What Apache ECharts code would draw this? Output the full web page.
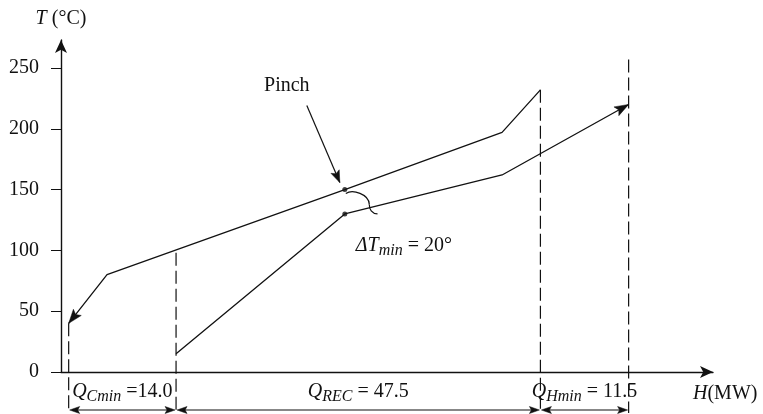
<!DOCTYPE html>
<html>
<head>
<meta charset="utf-8">
<script src="https://cdn.jsdelivr.net/npm/echarts@6/dist/echarts.min.js"></script>
<style>
  html, body { margin: 0; padding: 0; background: #fff; }
  #chart { width: 763px; height: 414px; }
</style>
</head>
<body>
<div id="chart"></div>
<script>
// Hot composite curve (H in MW, T in °C)
const hotH = [1, 6, 37, 57.5, 62.5];
const hotT = [40, 80, 150, 197, 232];

// Cold composite curve
const coldH = [15, 37, 57.5, 74];
const coldT = [15, 130, 162, 220];

// Pinch location and minimum approach temperature
const pinchH = 37;
const pinchHotT = 150;
const dTmin = 20;

// Energy targets laid end to end along H, starting at the hot curve's cold end
const targetStart = 1;
const targetNames = ['Cmin', 'REC', 'Hmin'];
const targetValues = [14.0, 47.5, 11.5];
const targetSeps = [' =', ' = ', ' = '];

// Where each dashed guide starts (temperature), one per target boundary
const guideTopT = [40, 98, 232, 257];

const yTicks = [0, 50, 100, 150, 200, 250];

const INK = '#111';
const FONT = 'Liberation Serif';

// Boundaries of the target intervals along H
const bounds = [targetStart];
targetValues.forEach(v => bounds.push(bounds[bounds.length - 1] + v));

const toPairs = (xs, ys) => xs.map((x, i) => [x, ys[i]]);

function arrowHead(from, tip, len, halfW) {
  const dx = tip[0] - from[0], dy = tip[1] - from[1];
  const d = Math.hypot(dx, dy) || 1;
  const ux = dx / d, uy = dy / d;
  const bx = tip[0] - ux * len, by = tip[1] - uy * len;
  const nx = -uy, ny = ux;
  return {
    type: 'polygon',
    shape: { points: [tip, [bx + nx * halfW, by + ny * halfW], [tip[0] - ux * len * 0.8, tip[1] - uy * len * 0.8], [bx - nx * halfW, by - ny * halfW]] },
    style: { fill: INK, stroke: INK, lineWidth: 0.5 }
  };
}

const labelRich = {
  q: { fontFamily: FONT, fontSize: 20, fontStyle: 'italic', lineHeight: 26, color: INK },
  s: { fontFamily: FONT, fontSize: 16, fontStyle: 'italic', lineHeight: 16, verticalAlign: 'bottom', color: INK },
  t: { fontFamily: FONT, fontSize: 20, lineHeight: 26, color: INK }
};

const chart = echarts.init(document.getElementById('chart'));

const option = {
  animation: false,
  backgroundColor: '#fff',
  grid: { left: 61, right: 50, top: 40, bottom: 42, outerBoundsMode: 'none' },
  xAxis: {
    type: 'value', min: 0, max: 85,
    splitLine: { show: false },
    axisTick: { show: false },
    axisLabel: { show: false },
    axisLine: { show: true, onZero: false, lineStyle: { color: INK, width: 1.4 }, symbol: ['none', 'arrow'], symbolSize: [9, 13] },
    name: '{i|H}(MW)',
    nameLocation: 'end',
    nameGap: -20,
    nameTextStyle: {
      fontFamily: FONT, fontSize: 20, color: INK, align: 'left', verticalAlign: 'top', padding: [12, 0, 0, 0],
      rich: { i: { fontFamily: FONT, fontSize: 20, fontStyle: 'italic', color: INK } }
    }
  },
  yAxis: {
    type: 'value', min: 0, max: 273,
    splitLine: { show: false },
    axisLine: { show: true, lineStyle: { color: INK, width: 1.4 }, symbol: ['none', 'arrow'], symbolSize: [9, 13] },
    axisTick: { show: true, length: 10, customValues: yTicks, lineStyle: { color: INK, width: 1 } },
    axisLabel: { customValues: yTicks, margin: 22, fontFamily: FONT, fontSize: 20, color: INK },
    name: '{i|T} (°C)',
    nameLocation: 'end',
    nameGap: 11,
    nameTextStyle: {
      fontFamily: FONT, fontSize: 20, color: INK,
      rich: { i: { fontFamily: FONT, fontSize: 20, fontStyle: 'italic', color: INK } }
    }
  },
  series: [
    {
      name: 'Hot composite', type: 'line', data: toPairs(hotH, hotT),
      symbol: 'none', clip: false, lineStyle: { color: INK, width: 1.3 }
    },
    {
      name: 'Cold composite', type: 'line', data: toPairs(coldH, coldT),
      symbol: 'none', clip: false, lineStyle: { color: INK, width: 1.3 }
    },
    {
      name: 'Pinch points', type: 'scatter', symbol: 'circle', symbolSize: 5,
      itemStyle: { color: INK },
      data: [[pinchH, pinchHotT], [pinchH, pinchHotT - dTmin]]
    },
    {
      // arrowheads at the hot curve's cold end and the cold curve's hot end
      name: 'Curve arrows', type: 'custom',
      encode: { x: [0, 2], y: [1, 3] },
      data: [
        [hotH[1], hotT[1], hotH[0], hotT[0]],
        [coldH[coldH.length - 2], coldT[coldT.length - 2], coldH[coldH.length - 1], coldT[coldT.length - 1]]
      ],
      renderItem(params, api) {
        const a = api.coord([api.value(0), api.value(1)]);
        const b = api.coord([api.value(2), api.value(3)]);
        return arrowHead(a, b, 14, 5);
      }
    },
    {
      // dashed guides at the target boundaries
      name: 'Guides', type: 'custom',
      data: bounds.map((h, i) => [h, guideTopT[i]]),
      renderItem(params, api) {
        const top = api.coord([api.value(0), api.value(1)]);
        const base = api.coord([api.value(0), 0]);
        return {
          type: 'line',
          shape: { x1: top[0], y1: top[1], x2: top[0], y2: base[1] + 41 },
          style: { stroke: INK, lineWidth: 1.2, lineDash: [13, 5] }
        };
      }
    },
    {
      // dimension arrows and labels for the energy targets
      name: 'Targets', type: 'custom',
      encode: { x: [0, 1] },
      data: targetValues.map((v, i) => [bounds[i], bounds[i + 1], i]),
      renderItem(params, api) {
        const i = api.value(2);
        const a = api.coord([api.value(0), 0]);
        const b = api.coord([api.value(1), 0]);
        const y = a[1] + 38;
        const mid = (a[0] + b[0]) / 2;
        return {
          type: 'group',
          children: [
            { type: 'line', shape: { x1: a[0] + 4, y1: y, x2: b[0] - 4, y2: y }, style: { stroke: INK, lineWidth: 1.2 } },
            arrowHead([mid, y], [a[0] + 1, y], 10, 3.5),
            arrowHead([mid, y], [b[0] - 1, y], 10, 3.5),
            {
              type: 'text', x: mid, y: a[1] + 20,
              style: {
                text: '{q|Q}{s|' + targetNames[i] + '}{t|' + targetSeps[i] + targetValues[i].toFixed(1) + '}',
                rich: labelRich, align: 'center', verticalAlign: 'middle', fill: INK
              }
            }
          ]
        };
      }
    },
    {
      // pinch callout and the ΔTmin leader
      name: 'Pinch notes', type: 'custom',
      encode: { x: 0, y: [1, 2] },
      data: [[pinchH, pinchHotT, pinchHotT - dTmin]],
      renderItem(params, api) {
        const hp = api.coord([api.value(0), api.value(1)]);
        const cp = api.coord([api.value(0), api.value(2)]);
        const s = (cp[1] - hp[1]) / 34;
        const P = (dx, dy) => [hp[0] + dx, hp[1] + dy * s];
        const from = [hp[0] - 38, hp[1] - 84];
        const tip = [hp[0] - 5, hp[1] - 7];
        const p0 = P(1, 5.4), p1 = P(24.5, 20.7), p2 = P(32.7, 34);
        const c1 = P(8, -0.5), c2 = P(24, 6), c3 = P(24.3, 27.5), c4 = P(27, 33.5);
        return {
          type: 'group',
          children: [
            {
              type: 'text', x: hp[0] - 58, y: hp[1] - 104,
              style: { text: 'Pinch', fontFamily: FONT, fontSize: 20, fill: INK, align: 'center', verticalAlign: 'middle' }
            },
            { type: 'line', shape: { x1: from[0], y1: from[1], x2: tip[0], y2: tip[1] }, style: { stroke: INK, lineWidth: 1.2 } },
            arrowHead(from, tip, 12, 4.5),
            {
              type: 'bezierCurve',
              shape: { x1: p0[0], y1: p0[1], cpx1: c1[0], cpy1: c1[1], cpx2: c2[0], cpy2: c2[1], x2: p1[0], y2: p1[1] },
              style: { stroke: INK, lineWidth: 1.2, fill: null }
            },
            {
              type: 'bezierCurve',
              shape: { x1: p1[0], y1: p1[1], cpx1: c3[0], cpy1: c3[1], cpx2: c4[0], cpy2: c4[1], x2: p2[0], y2: p2[1] },
              style: { stroke: INK, lineWidth: 1.2, fill: null }
            },
            {
              type: 'text', x: cp[0] + 11, y: cp[1] + 32,
              style: {
                text: '{q|ΔT}{s|min}{t| = ' + dTmin + '°}',
                rich: labelRich, align: 'left', verticalAlign: 'middle', fill: INK
              }
            }
          ]
        };
      }
    }
  ]
};

chart.setOption(option);
</script>
</body>
</html>
